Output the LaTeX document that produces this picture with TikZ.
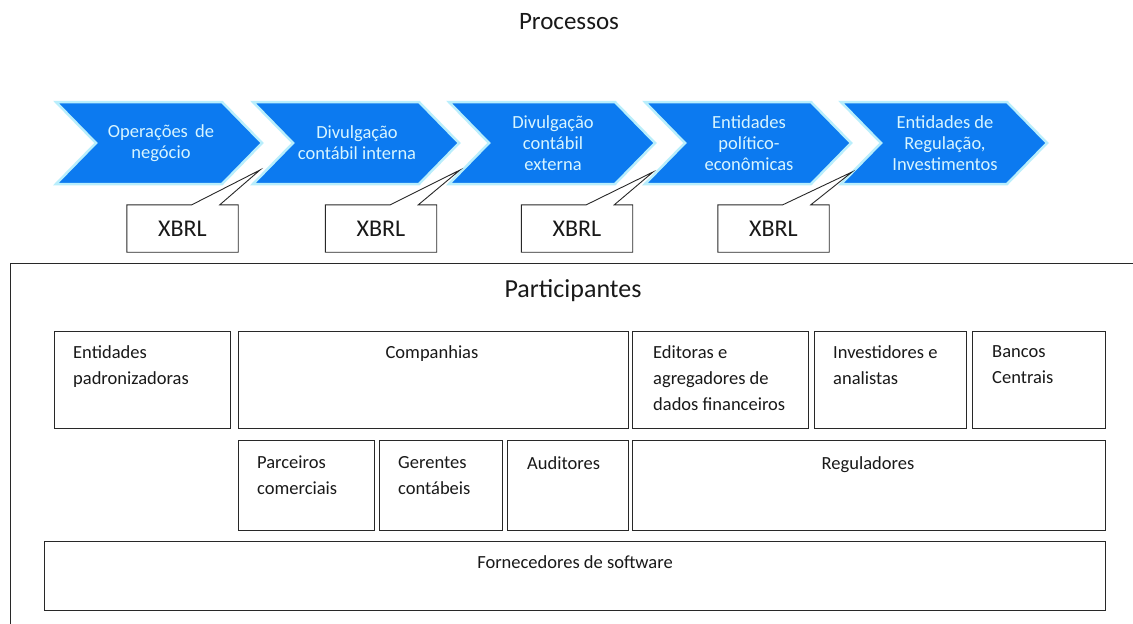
\documentclass[tikz,border=0pt]{standalone}
\usepackage{fontspec}
\setmainfont{Carlito}
\usetikzlibrary{calc}
\definecolor{chev}{RGB}{12,122,240}
\definecolor{glow}{RGB}{185,238,252}
\definecolor{chevtxt}{RGB}{215,245,255}
\definecolor{ink}{RGB}{25,25,25}
\definecolor{edge}{RGB}{40,40,40}
\begin{document}
\begin{tikzpicture}[x=1pt,y=-1pt,
  chevron/.style={fill=chev,draw=glow,line width=2.5pt,line join=miter},
  chevlabel/.style={text=chevtxt,align=center,font=\fontsize{18.5}{21}\selectfont,inner sep=0pt},
  xbrlbox/.style={minimum width=111pt,minimum height=47pt,inner sep=0pt,font=\fontsize{24}{28}\selectfont,text=ink},
  callout/.style={draw=edge,line width=0.9pt,fill=white,line join=miter},
  partbox/.style={draw=edge,line width=1pt,anchor=north west,inner sep=0pt},
  boxtext/.style={text=ink,align=left,font=\fontsize{18.5}{26}\selectfont,inner sep=0pt},
  title/.style={text=ink,inner sep=0pt,anchor=base}]
\useasboundingbox (0,0) rectangle (1133,624);
\fill[white] (0,0) rectangle (1133,624);

\node[title,font=\fontsize{25}{28}\selectfont] (proc) at (569,29) {Processos};

% chevrons
\foreach \L in {56,253,449,645,841}{
  \filldraw[chevron] (\L,102) -- ++(166,0) -- ++(40,41) -- ++(-40,41) -- ++(-166,0) -- ++(40,-41) -- cycle;
}
\node[chevlabel] (c1) at (161,143) {Operações\hspace{3pt} de\\negócio};
\node[chevlabel] (c2) at (357,143) {Divulgação\\contábil interna};
\node[chevlabel] (c3) at (553,143) {Divulgação\\contábil\\externa};
\node[chevlabel] (c4) at (749,143) {Entidades\\político-\\econômicas};
\node[chevlabel] (c5) at (945,143) {Entidades de\\Regulação,\\Investimentos};

% callouts
\coordinate (t1) at (260,170);
\coordinate (t2) at (460,170);
\coordinate (t3) at (653,172);
\coordinate (t4) at (852,172);
\node[xbrlbox] (x1) at (182.5,228.5) {};
\node[xbrlbox] (x2) at (381,228.5) {};
\node[xbrlbox] (x3) at (577,228.5) {};
\node[xbrlbox] (x4) at (773.5,228.5) {};
\foreach \n in {1,2,3,4}{
  \draw[callout] ($(x\n.north west)+(65,0)$) -- (x\n.north west) -- (x\n.south west) -- (x\n.south east) -- (x\n.north east) -- ($(x\n.north west)+(93,0)$) -- (t\n) -- cycle;
  \node[xbrlbox] (xl\n) at (x\n.center) {XBRL};
}

% participants frame
\draw[edge,line width=1pt] (10,626) -- (10,263) -- (1135,263);
\node[title,font=\fontsize{26}{30}\selectfont] (part) at (573,297) {Participantes};

% row 1
\node[partbox,minimum width=176pt,minimum height=97pt] (ent) at (54,331) {};
\node[partbox,minimum width=390pt,minimum height=97pt] (comp) at (238,331) {};
\node[partbox,minimum width=176pt,minimum height=97pt] (edit) at (632,331) {};
\node[partbox,minimum width=152pt,minimum height=97pt] (inv) at (814,331) {};
\node[partbox,minimum width=133pt,minimum height=97pt] (banc) at (972,331) {};
% row 2
\node[partbox,minimum width=136pt,minimum height=90pt] (parc) at (238,440) {};
\node[partbox,minimum width=123pt,minimum height=90pt] (ger) at (379,440) {};
\node[partbox,minimum width=121pt,minimum height=90pt] (aud) at (507,440) {};
\node[partbox,minimum width=473pt,minimum height=90pt] (reg) at (632,440) {};
% row 3
\node[partbox,minimum width=1061pt,minimum height=69pt] (forn) at (44,541) {};

\node[boxtext,anchor=north west] (entT) at (73,345) {Entidades\\padronizadoras};
\node[boxtext,anchor=base] (compT) at (432,358) {Companhias};
\node[boxtext,anchor=north west] (editT) at (653,345) {Editoras e\\agregadores de\\dados financeiros};
\node[boxtext,anchor=north west] (invT) at (833,345) {Investidores e\\analistas};
\node[boxtext,anchor=north west] (bancT) at (992,345) {Bancos\\Centrais};
\node[boxtext,anchor=north west] (parcT) at (257,456) {Parceiros\\comerciais};
\node[boxtext,anchor=north west] (gerT) at (398,456) {Gerentes\\contábeis};
\node[boxtext,anchor=north west] (audT) at (527,456) {Auditores};
\node[boxtext,anchor=base] (regT) at (868,469) {Reguladores};
\node[boxtext,anchor=base] (fornT) at (575,568) {Fornecedores de software};
\end{tikzpicture}
\end{document}
